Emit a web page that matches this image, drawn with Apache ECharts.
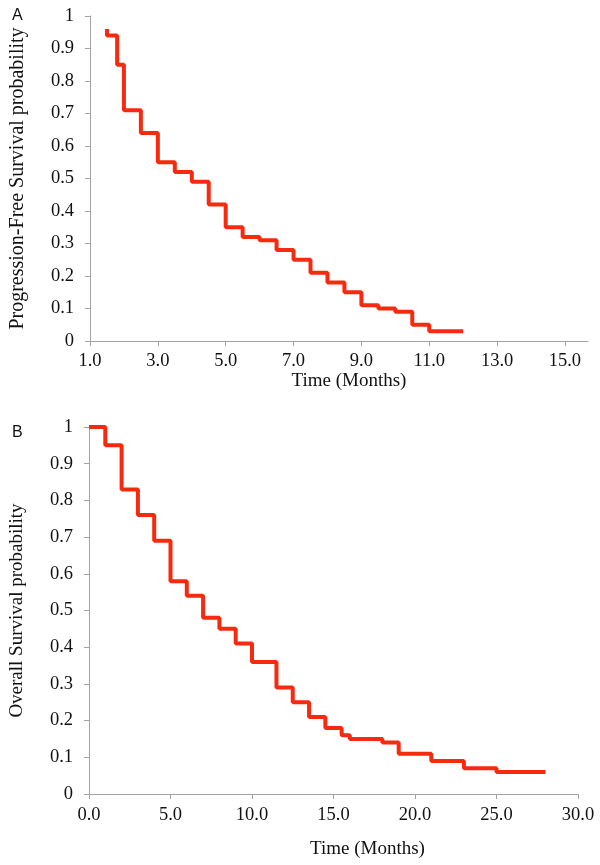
<!DOCTYPE html>
<html>
<head>
<meta charset="utf-8">
<script src="https://cdn.jsdelivr.net/npm/echarts@6/dist/echarts.min.js"></script>
<style>
html,body{margin:0;padding:0;background:#fff;}
#chart{width:600px;height:865px;}
</style>
</head>
<body>
<div id="chart"></div>
<script>
// Panel A: Progression-free survival (time in months, survival probability)
const pfsTimes  = [1.5, 1.5, 1.8, 2.0, 2.5, 3.0, 3.5, 4.0, 4.5, 5.0, 5.5, 6.0, 6.5, 7.0, 7.5, 8.0, 8.5, 9.0, 9.5, 10.0, 10.5, 11.0, 12.0];
const pfsValues = [0.96, 0.94, 0.85, 0.71, 0.64, 0.55, 0.52, 0.49, 0.42, 0.35, 0.32, 0.31, 0.28, 0.25, 0.21, 0.18, 0.15, 0.11, 0.10, 0.09, 0.05, 0.03, 0.03];
// Panel B: Overall survival
const osTimes  = [0, 1, 2, 3, 4, 5, 6, 7, 8, 9, 10, 11.5, 12.5, 13.5, 14.5, 15.5, 16, 18, 19, 21, 23, 25, 28];
const osValues = [1.0, 0.95, 0.83, 0.76, 0.69, 0.58, 0.54, 0.48, 0.45, 0.41, 0.36, 0.29, 0.25, 0.21, 0.18, 0.16, 0.15, 0.14, 0.11, 0.09, 0.07, 0.06, 0.06];
// Tick labels
const pfsXTicks = [1, 3, 5, 7, 9, 11, 13, 15];
const osXTicks  = [0, 5, 10, 15, 20, 25, 30];
const panelLabels = ['A', 'B'];
const yTitles = ['Progression-Free Survival probability', 'Overall Survival probability'];
const xTitle = 'Time (Months)';

const serif = '"Liberation Serif", "DejaVu Serif", serif';
const sans = '"Liberation Sans", Arial, sans-serif';
const axisGray = '#a3a3a3';
const lineRed = '#f72a10';
const txt = '#111';

function yAxisCfg(gridIndex, name, titleSize) {
  return {
    type: 'value', gridIndex, min: 0, max: 1, interval: 0.1,
    name, nameLocation: 'middle', nameGap: 62,
    nameTextStyle: { fontFamily: serif, fontSize: titleSize, color: txt },
    axisLine: { show: true, lineStyle: { color: axisGray, width: 1 } },
    axisTick: { show: true, length: 5, lineStyle: { color: axisGray } },
    splitLine: { show: false },
    axisLabel: { fontFamily: serif, fontSize: 18.5, color: txt, margin: 16,
      formatter: v => (v === 0 ? '0' : v === 1 ? '1' : v.toFixed(1)) }
  };
}
function xAxisCfg(gridIndex, min, max, ticks, shift, labelMargin, nameGap) {
  return {
    type: 'value', gridIndex, min, max,
    name: xTitle, nameLocation: 'middle', nameGap,
    nameTextStyle: { fontFamily: serif, fontSize: 19, color: txt, padding: [0, 0, 0, shift * 2] },
    axisLine: { show: true, onZero: false, lineStyle: { color: axisGray, width: 1 } },
    axisTick: { show: true, length: 5, customValues: ticks, lineStyle: { color: axisGray } },
    splitLine: { show: false },
    axisLabel: { fontFamily: serif, fontSize: 18.5, color: txt, margin: labelMargin, customValues: ticks,
      formatter: v => v.toFixed(1) }
  };
}

const chart = echarts.init(document.getElementById('chart'), null, { renderer: 'canvas' });
chart.setOption({
  animation: false,
  backgroundColor: '#fff',
  title: [
    { text: panelLabels[0], left: 12, top: 8, padding: 0, textStyle: { fontFamily: sans, fontSize: 16, fontWeight: 'normal', color: txt } },
    { text: panelLabels[1], left: 12, top: 425, padding: 0, textStyle: { fontFamily: sans, fontSize: 16, fontWeight: 'normal', color: txt } }
  ],
  grid: [
    { left: 90, top: 16, width: 498, height: 325, containLabel: false },
    { left: 88, top: 427, width: 490, height: 367, containLabel: false }
  ],
  xAxis: [
    xAxisCfg(0, 1, 15.68, pfsXTicks, 10, 11, 28),
    xAxisCfg(1, 0, 30, osXTicks, 34, 12, 46)
  ],
  yAxis: [
    yAxisCfg(0, yTitles[0], 20),
    yAxisCfg(1, yTitles[1], 19)
  ],
  series: [
    { type: 'line', xAxisIndex: 0, yAxisIndex: 0, step: 'end', showSymbol: false, symbol: 'none',
      lineStyle: { color: lineRed, width: 4 }, data: pfsTimes.map((t, i) => [t, pfsValues[i]]) },
    { type: 'line', xAxisIndex: 1, yAxisIndex: 1, step: 'end', showSymbol: false, symbol: 'none',
      lineStyle: { color: lineRed, width: 4 }, data: osTimes.map((t, i) => [t, osValues[i]]) }
  ]
});
</script>
</body>
</html>
